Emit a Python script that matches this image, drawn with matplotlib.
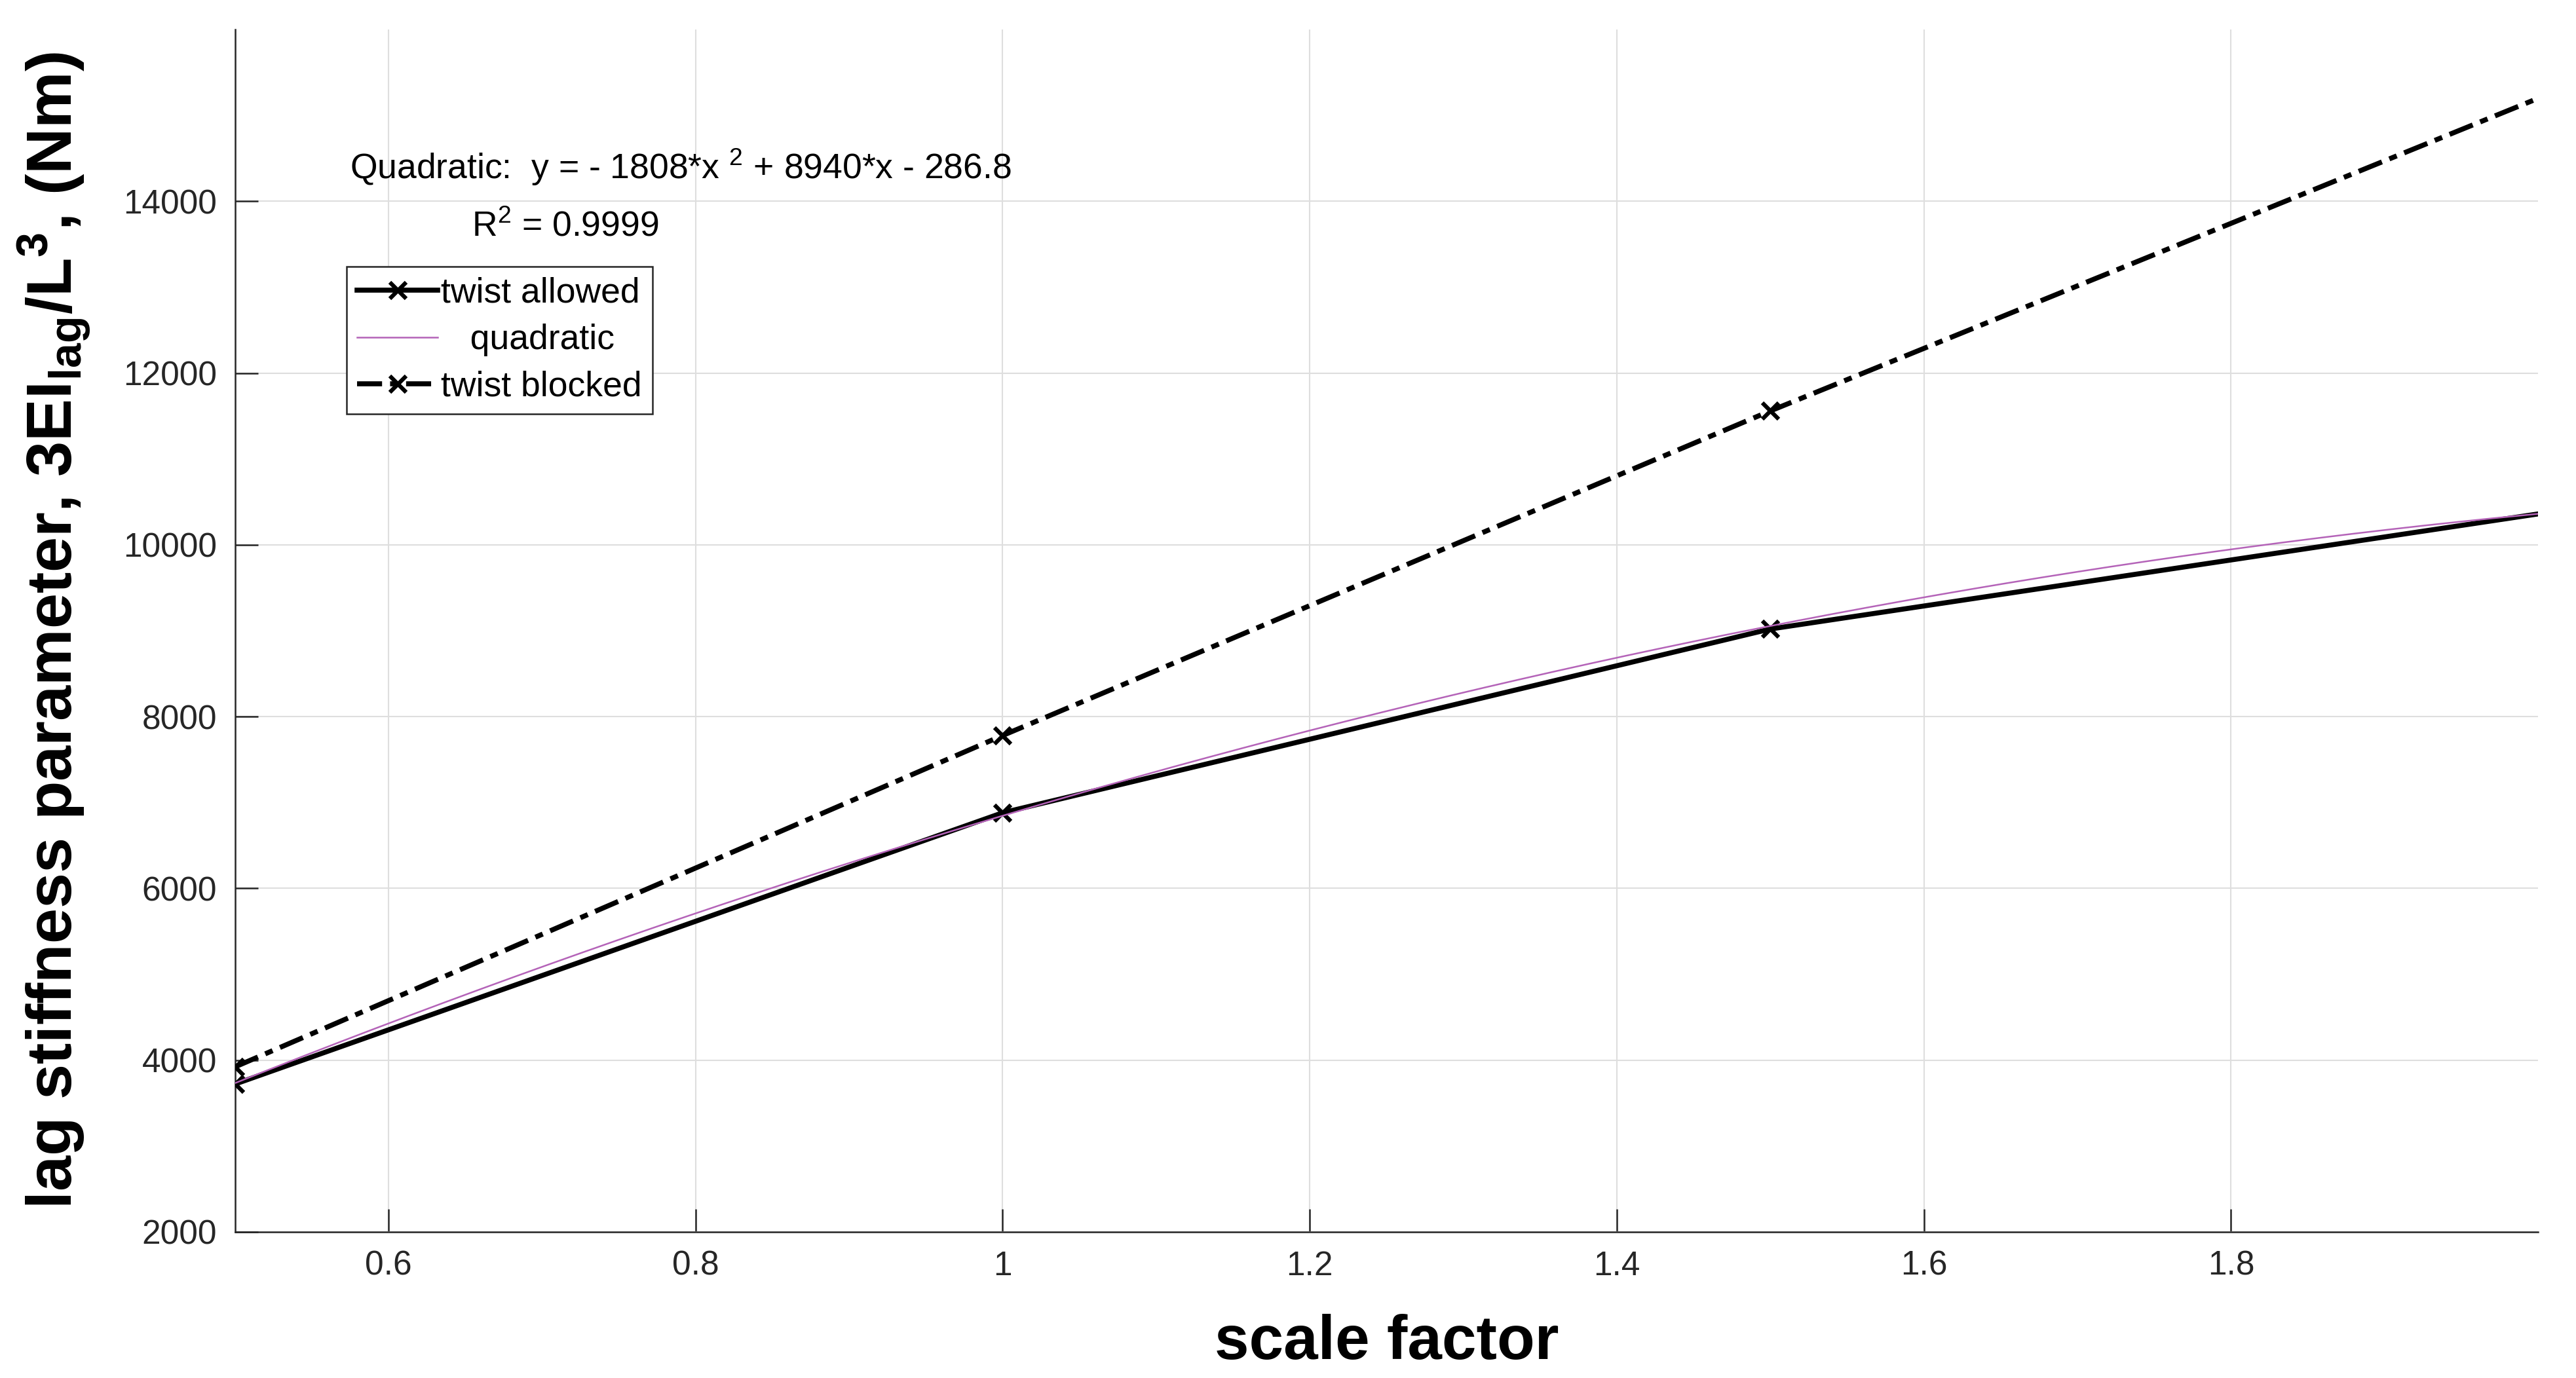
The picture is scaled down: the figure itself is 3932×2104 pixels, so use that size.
import numpy as np
import matplotlib
matplotlib.use("Agg")
import matplotlib.pyplot as plt

# data
scale = [0.5, 1.0, 1.5, 2.0]
twist_allowed = [3720, 6880, 9020, 10360]
twist_blocked = [3920, 7780, 11560, 15200]

# quadratic fit shown in the figure annotation
quad_coef = [-1808, 8940, -286.8]

x_ticks = [0.6, 0.8, 1.0, 1.2, 1.4, 1.6, 1.8]
x_tick_labels = ["0.6", "0.8", "1", "1.2", "1.4", "1.6", "1.8"]
y_ticks = [2000, 4000, 6000, 8000, 10000, 12000, 14000]

plt.rcParams["font.family"] = ["Liberation Sans", "DejaVu Sans"]
plt.rcParams["mathtext.default"] = "regular"

fig = plt.figure(figsize=(39.32, 21.04), dpi=100)
ax = fig.add_axes([0.0912, 0.1061, 0.8941, 0.8724])

xq = np.linspace(0.5, 2.0, 200)
ax.plot(scale, twist_allowed, color="black", linewidth=5.5, marker="x",
        markersize=18, markeredgewidth=4.5, markevery=[0, 1, 2],
        label="twist allowed", zorder=3)
ax.plot(xq, np.polyval(quad_coef, xq), color="#b463b8", linewidth=1.8,
        label="   quadratic", zorder=4)
ax.plot(scale, twist_blocked, color="black", linewidth=5.5,
        linestyle=(0, (5, 1.6, 1.6, 1.6)), marker="x", markersize=18,
        markeredgewidth=4.5, markevery=[0, 1, 2], label="twist blocked",
        zorder=3)

ax.set_xlim(0.5, 2.0)
ax.set_ylim(2000, 16000)
ax.set_xticks(x_ticks)
ax.set_xticklabels(x_tick_labels)
ax.set_yticks(y_ticks)

ax.grid(True, color="#dedede", linewidth=1.5)
ax.set_axisbelow(True)
for side in ["top", "right"]:
    ax.spines[side].set_visible(False)
for side in ["left", "bottom"]:
    ax.spines[side].set_color("#262626")
    ax.spines[side].set_linewidth(1.8)

ax.tick_params(axis="both", direction="in", length=25, width=1.8,
               colors="#262626", labelsize=37)
ax.tick_params(axis="x", pad=20)
ax.tick_params(axis="y", pad=20)

ax.set_xlabel("scale factor", fontsize=68, fontweight="bold")
ax.set_ylabel(r"lag stiffness parameter, 3EI$_{lag}$/L$^{3}$, (Nm)",
              fontsize=70, fontweight="bold")
ax.xaxis.set_label_coords(0.5, -0.068)
ax.yaxis.set_label_coords(-0.062, 0.5)

ax.text(0.575, 14400, r"Quadratic:  y = - 1808*x $^{2}$ + 8940*x - 286.8",
        fontsize=38.5, va="center", ha="left")
ax.text(0.654, 13700, r"R$^{2}$ = 0.9999", fontsize=38.5, va="center",
        ha="left")

leg = ax.legend(loc="upper left", bbox_to_anchor=(0.0485, 0.803),
                fontsize=38.5, handlelength=2.3, handletextpad=0.1,
                labelspacing=0.4, borderpad=0.3, borderaxespad=0,
                fancybox=False, framealpha=1, edgecolor="#262626")
leg.get_frame().set_linewidth(1.8)

fig.savefig("out.png", dpi=100)
